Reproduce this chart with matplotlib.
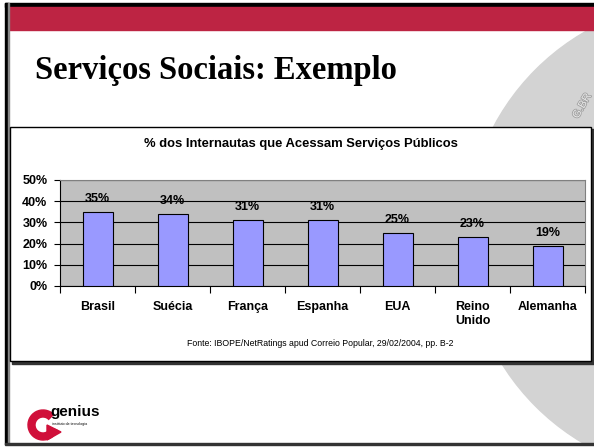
import matplotlib
matplotlib.use("Agg")
import matplotlib.pyplot as plt
import matplotlib.patheffects as pe
from matplotlib.patches import Rectangle, Circle, Wedge, Polygon
import numpy as np

# ==== data ====
paises = ["Brasil", "Suécia", "França", "Espanha", "EUA", "Reino\nUnido", "Alemanha"]
percentuais = [35, 34, 31, 31, 25, 23, 19]
y_ticks = [0, 10, 20, 30, 40, 50]
y_labels = ["0%", "10%", "20%", "30%", "40%", "50%"]

titulo_slide = "Serviços Sociais: Exemplo"
titulo_grafico = "% dos Internautas que Acessam Serviços Públicos"
fonte = "Fonte: IBOPE/NetRatings apud Correio Popular, 29/02/2004, pp. B-2"

SANS = "Liberation Sans"
SERIF = "Liberation Serif"
RED = "#bd2443"
LOGO_RED = "#d0103a"

W, H = 594, 447
fig = plt.figure(figsize=(W / 100, H / 100), dpi=100)

# ---- slide background (pixel coordinates) ----
bg = fig.add_axes([0, 0, 1, 1])
bg.set_xlim(0, W)
bg.set_ylim(H, 0)
bg.axis("off")

bg.add_patch(Circle((704, 238), 238, color="#d3d3d3", zorder=1))
bg.text(582, 106, "G.BR", rotation=60, ha="center", va="center", fontsize=8,
        family=SANS, color="#e8e8e8", zorder=2,
        path_effects=[pe.withStroke(linewidth=1.2, foreground="#a0a0a0")])

# red band + slide borders
bg.add_patch(Rectangle((5, 3), W, 4, color="black", zorder=3))
bg.add_patch(Rectangle((8, 7), W, 23, color=RED, zorder=3))
bg.add_patch(Rectangle((5, 3), 3, 442, color="black", zorder=3))
bg.add_patch(Rectangle((8, 3), 1, 442, color="#888888", zorder=3))
bg.add_patch(Rectangle((0, 445), W, 5, color="white", zorder=3))
bg.add_patch(Rectangle((5, 443), W, 2, color="#333333", zorder=3))

bg.text(35, 70, titulo_slide, family=SERIF, fontweight="bold", fontsize=23.5,
        ha="left", va="center", zorder=4)

# chart frame with a small shadow
bg.add_patch(Rectangle((12, 129), 582, 235, color="#333333", zorder=4))
bg.add_patch(Rectangle((10, 127), 581, 234, facecolor="white", edgecolor="black",
                       lw=1, zorder=5))
bg.text(301, 144, titulo_grafico, family=SANS, fontweight="bold", fontsize=9.4,
        ha="center", va="center", zorder=6)
bg.text(320, 343, fonte, family=SANS, fontsize=6.3, ha="center", va="center", zorder=6)

# logo: red "G" with arrow + name
bg.add_patch(Wedge((43, 425), 15, 20, 315, width=7, color=LOGO_RED, zorder=4))
bg.add_patch(Polygon([(47, 425), (61, 432), (47, 440)], closed=True,
                     color=LOGO_RED, zorder=4))
bg.text(50, 412, "genius", family=SANS, fontweight="bold", fontsize=11,
        ha="left", va="center", zorder=5)
bg.text(52, 424, "instituto de tecnologia", family=SANS, fontsize=2.6,
        ha="left", va="center", zorder=5)

# ---- bar chart ----
ax = fig.add_axes([60 / W, 1 - 286 / H, 525 / W, 106 / H])
ax.set_facecolor("#c0c0c0")
x = np.arange(len(paises))
ax.bar(x, percentuais, width=0.4, color="#9999ff", edgecolor="black", lw=0.8, zorder=3)

for xi, v in zip(x, percentuais):
    ax.annotate(f"{v}%", (xi, v), xytext=(0, 9.5), textcoords="offset points",
                ha="center", va="center", fontsize=9, fontweight="bold", family=SANS)

ax.set_xlim(-0.5, len(paises) - 0.5)
ax.set_ylim(0, 50)
ax.set_yticks(y_ticks)
ax.set_yticklabels(y_labels, fontsize=9, fontweight="bold", family=SANS)
ax.set_xticks(x)
ax.set_xticklabels(paises, fontsize=9, fontweight="bold", family=SANS, va="top")
ax.set_xticks(np.arange(-0.5, len(paises), 1), minor=True)
ax.tick_params(axis="x", which="major", length=0, pad=11)
ax.tick_params(axis="x", which="minor", length=5, direction="out", width=0.8)
ax.tick_params(axis="y", length=4, direction="out", width=0.8, pad=5)

ax.yaxis.grid(True, color="black", lw=0.8, zorder=1)
ax.set_axisbelow(True)
for s in ("top", "right"):
    ax.spines[s].set_color("#808080")
    ax.spines[s].set_linewidth(0.8)
for s in ("left", "bottom"):
    ax.spines[s].set_color("black")
    ax.spines[s].set_linewidth(0.8)

fig.savefig("out.png", dpi=100)
